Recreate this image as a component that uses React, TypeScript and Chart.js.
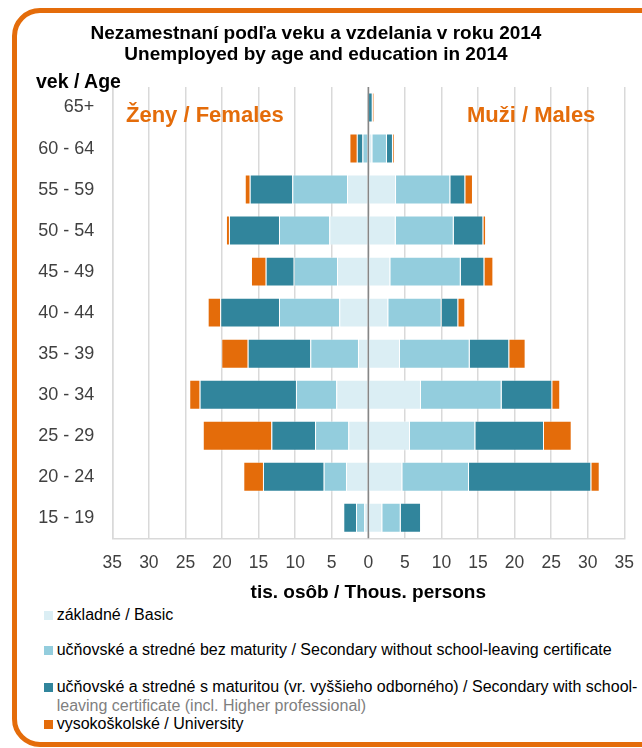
import React, { useEffect, useRef } from 'react';
import { Chart, registerables } from 'chart.js';

Chart.register(...registerables);

const ageGroups = ['65+', '60 - 64', '55 - 59', '50 - 54', '45 - 49', '40 - 44', '35 - 39', '30 - 34', '25 - 29', '20 - 24', '15 - 19'];

// thousands of persons (females shown to the left)
const femaleBasic = [0, 0.1, 2.91, 5.33, 4.28, 3.97, 1.41, 4.38, 2.73, 3.05, 0.55];
const femaleSecNoCert = [0, 0.7, 7.48, 6.88, 5.92, 8.24, 6.52, 5.51, 4.55, 3.05, 1.13];
const femaleSecCert = [0.15, 0.77, 5.82, 6.84, 3.83, 8.03, 8.56, 13.17, 5.97, 8.3, 1.74];
const femaleUniv = [0, 1.01, 0.68, 0.41, 2.01, 1.72, 3.61, 1.42, 9.38, 2.69, 0];

const maleBasic = [0, 0.55, 3.79, 3.75, 3.01, 2.73, 4.33, 7.2, 5.7, 4.65, 1.91];
const maleSecNoCert = [0.1, 2.0, 7.42, 7.93, 9.63, 7.3, 9.53, 11.03, 8.93, 9.12, 2.52];
const maleSecCert = [0.5, 0.82, 2.05, 4.05, 3.23, 2.27, 5.41, 6.92, 9.39, 16.72, 2.78];
const maleUniv = [0.2, 0.2, 1.05, 0.37, 1.23, 0.96, 2.24, 1.09, 3.79, 1.15, 0];

const seriesNames = [
  'základné / Basic',
  'učňovské a stredné bez maturity / Secondary without school-leaving certificate',
  'učňovské a stredné s maturitou (vr. vyššieho odborného) / Secondary with school-leaving certificate (incl. Higher professional)',
  'vysokoškolské / University',
];
const seriesColors = ['#DBEEF4', '#93CDDD', '#31859C', '#E46C0A'];

const xMin = -35;
const xMax = 35;
const xStep = 5;

const FONT = '"Liberation Sans", Arial, sans-serif';

const zeroLinePlugin = {
  id: 'zeroLine',
  afterDatasetsDraw(chart: any) {
    const x = chart.scales.x.getPixelForValue(0);
    const { top, bottom } = chart.chartArea;
    const ctx = chart.ctx;
    ctx.save();
    ctx.strokeStyle = '#868686';
    ctx.lineWidth = 1.5;
    ctx.beginPath();
    ctx.moveTo(x, top);
    ctx.lineTo(x, bottom);
    ctx.stroke();
    ctx.restore();
  },
};

export default function App() {
  const ref = useRef<HTMLCanvasElement>(null);

  useEffect(() => {
    if (!ref.current) return;
    const female = [femaleBasic, femaleSecNoCert, femaleSecCert, femaleUniv];
    const male = [maleBasic, maleSecNoCert, maleSecCert, maleUniv];
    const datasets: any[] = [];
    female.forEach((arr, i) => {
      datasets.push({
        label: 'Ženy – ' + seriesNames[i],
        data: arr.map((v) => -v),
        backgroundColor: seriesColors[i],
        borderColor: 'rgba(255,255,255,0.35)',
        borderWidth: 1,
        stack: 's',
        barPercentage: 0.73,
        categoryPercentage: 1,
      });
    });
    male.forEach((arr, i) => {
      datasets.push({
        label: 'Muži – ' + seriesNames[i],
        data: arr,
        backgroundColor: seriesColors[i],
        borderColor: 'rgba(255,255,255,0.35)',
        borderWidth: 1,
        stack: 's',
        barPercentage: 0.73,
        categoryPercentage: 1,
      });
    });

    const chart = new Chart(ref.current, {
      type: 'bar',
      data: { labels: ageGroups, datasets },
      plugins: [zeroLinePlugin],
      options: {
        indexAxis: 'y',
        responsive: false,
        animation: false,
        devicePixelRatio: 1,
        layout: { padding: { left: 0, right: 17.7, top: 87, bottom: 0 } },
        plugins: {
          legend: { display: false },
          tooltip: { enabled: false },
          title: { display: false },
        },
        scales: {
          x: {
            type: 'linear',
            stacked: true,
            min: xMin,
            max: xMax,
            ticks: {
              stepSize: xStep,
              padding: 0,
              color: '#404040',
              font: { family: FONT, size: 17.5 },
              callback: (v: any) => String(Math.abs(Number(v))),
            },
            grid: {
              color: '#D9D9D9',
              lineWidth: 1.5,
              drawTicks: true,
              tickLength: 14,
              tickColor: 'rgba(0,0,0,0)',
            },
            border: { display: true, color: '#D9D9D9', width: 1.5 },
            title: {
              display: true,
              text: 'tis. osôb / Thous. persons',
              color: '#000',
              font: { family: FONT, size: 19, weight: 'bold' },
              padding: 0,
            },
            afterFit: (scale: any) => {
              scale.height = 65.7;
            },
          },
          y: {
            type: 'category',
            stacked: true,
            ticks: {
              padding: 18,
              color: '#404040',
              font: { family: FONT, size: 18 },
            },
            grid: { display: false, drawTicks: false },
            border: { display: true, color: '#D9D9D9', width: 1.5 },
            afterFit: (scale: any) => {
              scale.width = 112.3;
            },
          },
        },
      },
    });
    return () => chart.destroy();
  }, []);

  const legendTops = [606, 641, 678, 715];

  return (
    <div
      style={{
        position: 'fixed',
        left: 0,
        top: 0,
        width: 642,
        height: 748,
        overflow: 'hidden',
        background: '#fff',
        fontFamily: FONT,
      }}
    >
      <div
        style={{
          position: 'absolute',
          left: 12,
          top: 8,
          width: 700,
          height: 739,
          border: '5px solid #E46C0A',
          borderRadius: 28,
          boxSizing: 'border-box',
        }}
      />
      <canvas
        ref={ref}
        width={642}
        height={604}
        style={{ position: 'absolute', left: 0, top: 0, width: 642, height: 604 }}
      />
      <div
        style={{
          position: 'absolute',
          left: 16,
          width: 600,
          top: 22,
          textAlign: 'center',
          fontSize: 19,
          fontWeight: 'bold',
          lineHeight: '21px',
          color: '#000',
        }}
      >
        <div>Nezamestnaní podľa veku a vzdelania v roku 2014</div>
        <div>Unemployed by age and education in 2014</div>
      </div>
      <div
        style={{
          position: 'absolute',
          left: 36,
          top: 70,
          fontSize: 19.5,
          fontWeight: 'bold',
          lineHeight: '22px',
          color: '#000',
        }}
      >
        vek / Age
      </div>
      <div
        style={{
          position: 'absolute',
          left: 126,
          top: 102,
          fontSize: 22,
          fontWeight: 'bold',
          lineHeight: '26px',
          color: '#E46C0A',
        }}
      >
        Ženy / Females
      </div>
      <div
        style={{
          position: 'absolute',
          left: 467,
          top: 102,
          fontSize: 22,
          fontWeight: 'bold',
          lineHeight: '26px',
          color: '#E46C0A',
        }}
      >
        Muži / Males
      </div>
      {seriesNames.map((name, i) => {
        const top = legendTops[i];
        const isLong = i === 2;
        return (
          <div key={i} style={{ position: 'absolute', left: 44, top, fontSize: 16, lineHeight: '18px', color: '#000' }}>
            <span
              style={{
                position: 'absolute',
                left: 0,
                top: 4.5,
                width: 9,
                height: 9,
                background: seriesColors[i],
              }}
            />
            <div style={{ position: 'absolute', left: 12.7, top: 0, whiteSpace: 'nowrap' }}>
              {isLong ? 'učňovské a stredné s maturitou (vr. vyššieho odborného) / Secondary with school-' : name}
            </div>
            {isLong && (
              <div style={{ position: 'absolute', left: 12.7, top: 19, whiteSpace: 'nowrap', color: '#7F7F7F' }}>
                leaving certificate (incl. Higher professional)
              </div>
            )}
          </div>
        );
      })}
    </div>
  );
}
